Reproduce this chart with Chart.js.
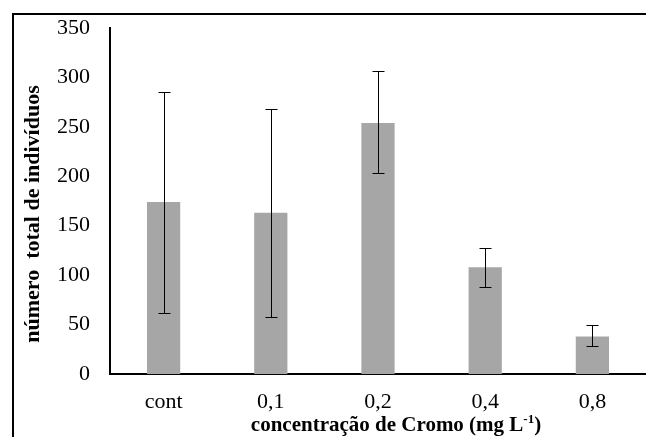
<!DOCTYPE html>
<html>
<head>
<meta charset="utf-8">
<script src="https://cdn.jsdelivr.net/npm/chart.js@4"></script>
<style>
  html, body { margin: 0; padding: 0; background: #fff; overflow: hidden; }
  #wrap { position: relative; width: 646px; height: 437px; }
  #frame {
    position: absolute; left: 12px; top: 13px; width: 700px; height: 500px;
    border-left: 2px solid #000; border-top: 2px solid #000;
  }
  canvas { position: absolute; left: 0; top: 0; }
</style>
</head>
<body>
<div id="wrap">
  <div id="frame"></div>
  <canvas id="chart" width="646" height="437"></canvas>
</div>
<script>
const categories = ["cont", "0,1", "0,2", "0,4", "0,8"];
const means = [174, 163, 254, 108, 38];
const errTop = [285, 268, 306, 127, 50];
const errBottom = [62, 58, 203, 88, 28];
const yTicks = [0, 50, 100, 150, 200, 250, 300, 350];

const serif = "'Liberation Serif', 'Times New Roman', serif";

// error bars drawn through the y scale
const errorBars = {
  id: "errorBars",
  afterDatasetsDraw(chart) {
    const ctx = chart.ctx;
    const y = chart.scales.y;
    const meta = chart.getDatasetMeta(0);
    ctx.save();
    ctx.strokeStyle = "#000";
    ctx.lineWidth = 1;
    meta.data.forEach((bar, i) => {
      const x = Math.round(bar.x) + 0.5;
      const top = Math.round(y.getPixelForValue(errTop[i])) + 0.5;
      const bot = Math.round(y.getPixelForValue(errBottom[i])) + 0.5;
      ctx.beginPath();
      ctx.moveTo(x, top);
      ctx.lineTo(x, bot);
      ctx.moveTo(x - 6, top);
      ctx.lineTo(x + 6, top);
      ctx.moveTo(x - 6, bot);
      ctx.lineTo(x + 6, bot);
      ctx.stroke();
    });
    ctx.restore();
  }
};

// axis titles (x title needs the superscript)
const axisTitles = {
  id: "axisTitles",
  afterDraw(chart) {
    const ctx = chart.ctx;
    ctx.save();
    ctx.fillStyle = "#000";

    const main = "concentração de Cromo (mg L";
    const sup = "-1";
    const tail = ")";
    const big = "bold 21px " + serif;
    const small = "bold 13px " + serif;
    ctx.font = big;
    const w1 = ctx.measureText(main).width;
    const w3 = ctx.measureText(tail).width;
    ctx.font = small;
    const w2 = ctx.measureText(sup).width;
    let x = 396 - (w1 + w2 + w3) / 2;
    const base = 431;
    ctx.textBaseline = "alphabetic";
    ctx.textAlign = "left";
    ctx.font = big;
    ctx.fillText(main, x, base);
    x += w1;
    ctx.font = small;
    ctx.fillText(sup, x, base - 8);
    x += w2;
    ctx.font = big;
    ctx.fillText(tail, x, base);

    ctx.translate(39, 214);
    ctx.rotate(-Math.PI / 2);
    ctx.textAlign = "center";
    ctx.font = "bold 22px " + serif;
    ctx.fillText("número  total de indivíduos", 0, 0);
    ctx.restore();
  }
};

new Chart(document.getElementById("chart"), {
  type: "bar",
  data: {
    labels: categories,
    datasets: [{
      data: means,
      backgroundColor: "#a6a6a6",
      borderWidth: 0,
      barPercentage: 0.31,
      categoryPercentage: 1
    }]
  },
  options: {
    responsive: false,
    animation: false,
    layout: { padding: { top: 28, right: 0, left: 0, bottom: 0 } },
    plugins: {
      legend: { display: false },
      tooltip: { enabled: false }
    },
    scales: {
      x: {
        grid: { display: false, drawTicks: false, tickLength: 0 },
        border: { display: true, color: "#000", width: 2 },
        ticks: {
          color: "#000",
          padding: 15,
          font: { family: serif, size: 22 }
        },
        afterFit(scale) {
          scale.height = 63;
          scale.paddingLeft = 0;
          scale.paddingRight = 0;
        }
      },
      y: {
        min: 0,
        max: 350,
        grid: { display: false, drawTicks: false, tickLength: 0 },
        border: { display: true, color: "#000", width: 2 },
        afterBuildTicks(scale) { scale.ticks = yTicks.map(v => ({ value: v })); },
        ticks: {
          color: "#000",
          padding: 20,
          font: { family: serif, size: 22 }
        },
        afterFit(scale) {
          scale.width = 110;
          scale.paddingTop = 0;
          scale.paddingBottom = 0;
        }
      }
    }
  },
  plugins: [errorBars, axisTitles]
});
</script>
</body>
</html>
